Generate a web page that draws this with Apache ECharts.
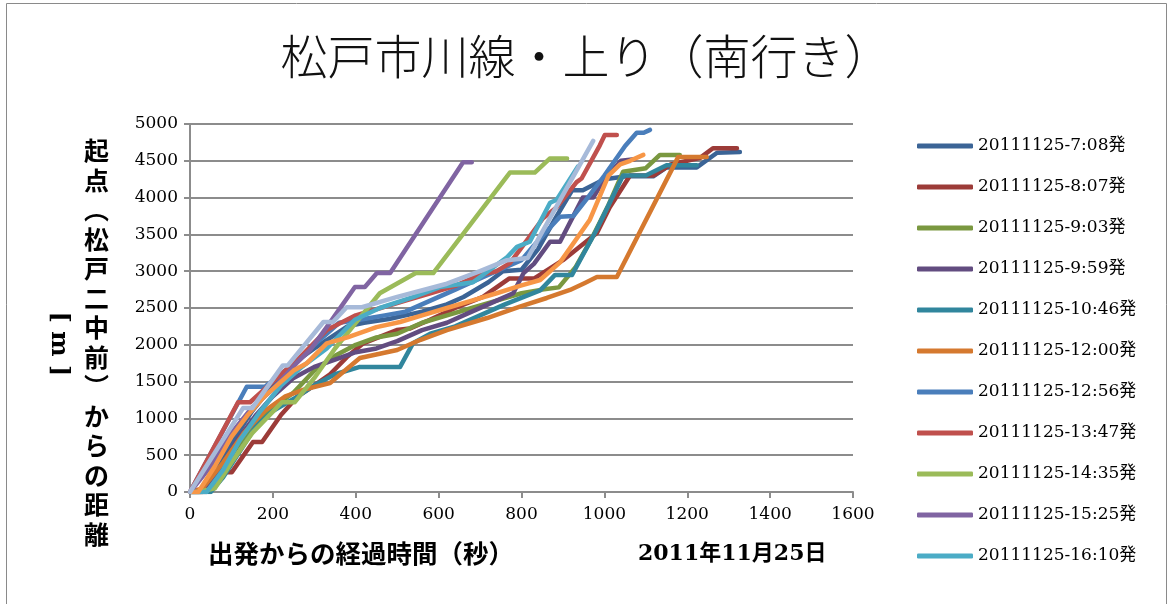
<!DOCTYPE html>
<html>
<head>
<meta charset="utf-8">
<script src="https://cdn.jsdelivr.net/npm/echarts@6/dist/echarts.min.js"></script>
<style>
  html, body { margin: 0; padding: 0; background: #ffffff; }
  #chart { width: 1173px; height: 604px; }
</style>
</head>
<body>
<div id="chart"></div>
<script>
// Elapsed time since departure (s) vs distance from the start stop (m), one run per array
const run0708 = [[0,0],[25,0],[60,300],[110,750],[150,1100],[200,1450],[250,1750],[300,1950],[340,2100],[380,2250],[420,2300],[480,2350],[520,2400],[560,2450],[620,2550],[660,2650],[720,2850],[755,3000],[800,3020],[840,3300],[880,3700],[922,4100],[948,4100],[1000,4250],[1054,4290],[1118,4290],[1150,4410],[1223,4410],[1272,4610],[1327,4620]];
const run0807 = [[0,0],[40,0],[85,270],[101,270],[152,680],[174,680],[220,1050],[260,1300],[300,1450],[338,1600],[378,1830],[418,2020],[499,2200],[530,2220],[579,2340],[640,2500],[707,2650],[770,2900],[830,2900],[900,3150],[982,3520],[1013,3870],[1062,4300],[1118,4300],[1160,4450],[1231,4540],[1262,4670],[1320,4670]];
const run0903 = [[0,0],[30,0],[60,200],[100,500],[150,900],[200,1150],[250,1350],[300,1650],[350,1850],[400,2000],[450,2100],[500,2150],[560,2300],[620,2400],[680,2500],[740,2600],[800,2700],[850,2750],[890,2780],[930,3050],[970,3450],[1010,3900],[1045,4350],[1100,4400],[1134,4580],[1182,4580]];
const run0959 = [[0,0],[30,0],[70,300],[120,750],[160,1050],[200,1300],[250,1550],[300,1700],[350,1800],[400,1900],[450,1950],[500,2050],[560,2200],[620,2300],[680,2450],[740,2600],[780,2700],[805,2975],[830,3100],[869,3400],[893,3400],[948,4000],[973,4000],[1000,4250],[1040,4500],[1073,4520]];
const run1046 = [[0,0],[50,0],[80,200],[120,550],[160,900],[200,1100],[260,1300],[300,1450],[350,1600],[410,1700],[507,1700],[538,2020],[580,2150],[640,2250],[700,2400],[760,2550],[845,2740],[881,2950],[922,2950],[980,3550],[1045,4300],[1100,4300],[1150,4440],[1223,4440]];
const run1200 = [[0,0],[30,50],[80,400],[130,800],[180,1100],[230,1300],[280,1400],[338,1480],[410,1820],[500,1930],[555,2065],[620,2200],[717,2364],[796,2520],[861,2636],[917,2745],[953,2840],[982,2920],[1030,2920],[1178,4550],[1247,4550]];
const run1256 = [[0,0],[137,1430],[181,1430],[230,1650],[280,1900],[330,2150],[360,2300],[420,2350],[470,2400],[520,2450],[580,2600],[640,2750],[700,2900],[760,3050],[800,3150],[830,3350],[870,3600],[893,3740],[925,3750],[960,4000],[1000,4300],[1050,4700],[1078,4880],[1095,4880],[1110,4920]];
const run1347 = [[0,0],[116,1220],[145,1220],[200,1500],[260,1800],[330,2200],[400,2400],[460,2500],[520,2600],[580,2700],[640,2800],[700,2950],[740,3000],[772,3110],[796,3290],[852,3720],[885,3870],[933,4210],[945,4260],[989,4710],[1001,4850],[1030,4850]];
const run1435 = [[0,0],[20,0],[60,50],[100,400],[150,800],[222,1220],[253,1220],[300,1550],[350,1950],[400,2300],[458,2700],[545,2975],[587,2975],[772,4340],[832,4340],[868,4530],[910,4530]];
const run1525 = [[0,0],[50,350],[100,800],[150,1150],[200,1400],[257,1750],[290,1930],[330,2240],[398,2785],[422,2785],[451,2975],[483,2975],[659,4480],[680,4480]];
const run1610 = [[0,0],[40,0],[80,300],[120,700],[170,1100],[220,1450],[270,1700],[330,1950],[398,2340],[458,2500],[540,2650],[603,2785],[683,2850],[765,3190],[789,3330],[820,3400],[869,3930],[885,3970],[936,4420]];
const run1655 = [[0,0],[20,0],[60,350],[100,750],[140,1050],[180,1300],[220,1500],[250,1650],[282,1750],[330,2020],[380,2100],[450,2240],[507,2310],[560,2400],[620,2500],[680,2600],[740,2700],[796,2800],[845,2880],[893,3120],[965,3700],[1010,4300],[1038,4450],[1062,4500],[1094,4580]];
const run1740 = [[0,0],[128,1140],[150,1140],[224,1720],[236,1720],[322,2310],[345,2310],[378,2510],[415,2510],[500,2650],[620,2830],[700,3000],[765,3150],[815,3180],[973,4770]];

const runNames = [
  '20111125-7:08発', '20111125-8:07発', '20111125-9:03発', '20111125-9:59発',
  '20111125-10:46発', '20111125-12:00発', '20111125-12:56発', '20111125-13:47発',
  '20111125-14:35発', '20111125-15:25発', '20111125-16:10発',
  '20111125-16:55発', '20111125-17:40発'
];
const runs = [run0708, run0807, run0903, run0959, run1046, run1200, run1256,
              run1347, run1435, run1525, run1610, run1655, run1740];
const runColors = ['#3B6496', '#9C3B38', '#7A9840', '#624C80', '#31869D', '#D5792F',
                   '#4A7EBB', '#C0504D', '#9BBB59', '#8064A2', '#4BACC6', '#F79646', '#A7BAD9'];

// legend lists the first eleven runs only
const legendNames = runNames.slice(0, 11);

const xTicks = { min: 0, max: 1600, step: 200 };
const yTicks = { min: 0, max: 5000, step: 500 };

const serif = '"DejaVu Serif", "Liberation Serif", "Noto Sans CJK JP", serif';
const gridGray = '#8c8c8c';
const plainNumber = v => String(v);

const chart = echarts.init(document.getElementById('chart'), null, { renderer: 'canvas' });

chart.setOption({
  backgroundColor: '#ffffff',
  animation: false,
  title: {
    text: '松戸市川線・上り（南行き）',
    left: 581,
    top: 28,
    textAlign: 'center',
    textStyle: {
      fontFamily: '"Noto Sans CJK JP", sans-serif',
      fontWeight: 300,
      fontSize: 47,
      color: '#111111'
    }
  },
  legend: {
    data: legendNames,
    orient: 'vertical',
    left: 912,
    top: 131,
    itemWidth: 56,
    itemHeight: 5,
    itemGap: 21,
    icon: 'roundRect',
    textStyle: {
      fontFamily: serif,
      fontSize: 17,
      lineHeight: 20,
      color: '#000000'
    }
  },
  grid: { left: 190, right: 320, top: 124, bottom: 112, containLabel: false },
  xAxis: {
    type: 'value',
    min: xTicks.min,
    max: xTicks.max,
    interval: xTicks.step,
    axisLine: { show: true, lineStyle: { color: gridGray, width: 2 } },
    axisTick: { show: true, inside: false, length: 6, lineStyle: { color: gridGray, width: 2 } },
    splitLine: { show: false },
    axisLabel: { fontFamily: serif, fontSize: 17, color: '#000000', margin: 14, formatter: plainNumber }
  },
  yAxis: {
    type: 'value',
    min: yTicks.min,
    max: yTicks.max,
    interval: yTicks.step,
    axisLine: { show: true, lineStyle: { color: gridGray, width: 2 } },
    axisTick: { show: true, inside: false, length: 6, lineStyle: { color: gridGray, width: 2 } },
    splitLine: { show: true, lineStyle: { color: gridGray, width: 2 } },
    axisLabel: { fontFamily: serif, fontSize: 17, color: '#000000', margin: 12, formatter: plainNumber }
  },
  series: runs.map((run, i) => ({
    name: runNames[i],
    type: 'line',
    data: run,
    showSymbol: false,
    symbol: 'none',
    color: runColors[i],
    lineStyle: { width: 4.5, color: runColors[i], cap: 'round', join: 'round' },
    emphasis: { disabled: true }
  })),
  graphic: [
    {
      type: 'rect',
      shape: { x: 6.5, y: 3.5, width: 1160, height: 640 },
      style: { fill: null, stroke: '#8a8a8a', lineWidth: 1 },
      silent: true
    },
    {
      type: 'text',
      left: 84,
      top: 136,
      style: {
        text: '起\n点\n︵\n松\n戸\n二\n中\n前\n︶\nか\nら\nの\n距\n離',
        font: 'bold 25px "Noto Sans CJK JP", sans-serif',
        lineHeight: 29.5,
        fill: '#000000',
        align: 'left'
      }
    },
    {
      type: 'text',
      x: 58,
      y: 344,
      rotation: -Math.PI / 2,
      style: {
        text: '[ m ]',
        font: 'bold 24px ' + serif,
        fill: '#000000',
        align: 'center',
        verticalAlign: 'middle'
      }
    },
    {
      type: 'text',
      left: 208,
      top: 541,
      style: {
        text: '出発からの経過時間（秒）',
        font: 'bold 25.5px "Noto Sans CJK JP", sans-serif',
        fill: '#000000'
      }
    },
    {
      type: 'text',
      left: 638,
      top: 543,
      style: {
        text: '2011年11月25日',
        font: 'bold 22px ' + serif,
        fill: '#000000'
      }
    }
  ]
});
</script>
</body>
</html>
